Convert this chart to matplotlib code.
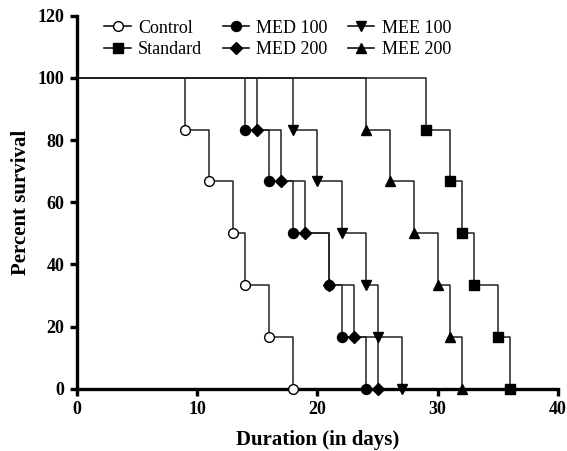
import matplotlib
matplotlib.use("Agg")
import matplotlib.pyplot as plt
from matplotlib.lines import Line2D

plt.rcParams['font.family'] = ['Liberation Serif', 'DejaVu Serif']

groups = ["Control", "Standard", "MED 100", "MED 200", "MEE 100", "MEE 200"]
control_t = [9, 11, 13, 14, 16, 18]
standard_t = [29, 31, 32, 33, 35, 36]
med100_t = [14, 16, 18, 21, 22, 24]
med200_t = [15, 17, 19, 21, 23, 25]
mee100_t = [18, 20, 22, 24, 25, 27]
mee200_t = [24, 26, 28, 30, 31, 32]
surv = [83.33, 66.67, 50.0, 33.33, 16.67, 0.0]

times = [control_t, standard_t, med100_t, med200_t, mee100_t, mee200_t]
markers = ['o', 's', 'o', 'D', 'v', '^']
mfaces = ['white', 'black', 'black', 'black', 'black', 'black']
msizes = [7, 7, 7.2, 6, 7.5, 7.5]

fig = plt.figure(figsize=(5.67, 4.51), dpi=100)
ax = fig.add_axes([0.1358, 0.1375, 0.984 - 0.1358, 0.9656 - 0.1375])

handles = []
for name, t, m, fc, ms in zip(groups, times, markers, mfaces, msizes):
    xs = [0] + t
    ys = [100] + surv
    ax.step(xs, ys, where='post', color='#222222', lw=1.1, zorder=2, clip_on=False)
    ax.plot(t, surv, ls='none', marker=m, ms=ms, mfc=fc, mec='black', mew=1.0,
            zorder=3, clip_on=False)
    handles.append(Line2D([], [], color='black', lw=1.1, marker=m, ms=ms, mfc=fc,
                          mec='black', mew=1.0, label=name))

ax.set_xlim(0, 40)
ax.set_ylim(0, 120)
ax.set_xticks([0, 10, 20, 30, 40])
ax.set_yticks([0, 20, 40, 60, 80, 100, 120])
for s in ['top', 'right']:
    ax.spines[s].set_visible(False)
for s in ['left', 'bottom']:
    ax.spines[s].set_linewidth(2.4)
ax.tick_params(axis='both', direction='out', length=5, width=2.4, labelsize=13, pad=4)
for lab in ax.get_xticklabels() + ax.get_yticklabels():
    lab.set_fontweight('bold')

ax.set_xlabel("Duration (in days)", fontsize=15, fontweight='bold', labelpad=8)
ax.set_ylabel("Percent survival", fontsize=15, fontweight='bold', labelpad=5)

leg = ax.legend(handles=handles, ncol=3, loc='upper left', bbox_to_anchor=(0.042, 1.008),
                frameon=False, fontsize=13, handlelength=1.45, columnspacing=1.15,
                labelspacing=0.25, handletextpad=0.4, borderaxespad=0)

fig.savefig("out.png", dpi=100)
